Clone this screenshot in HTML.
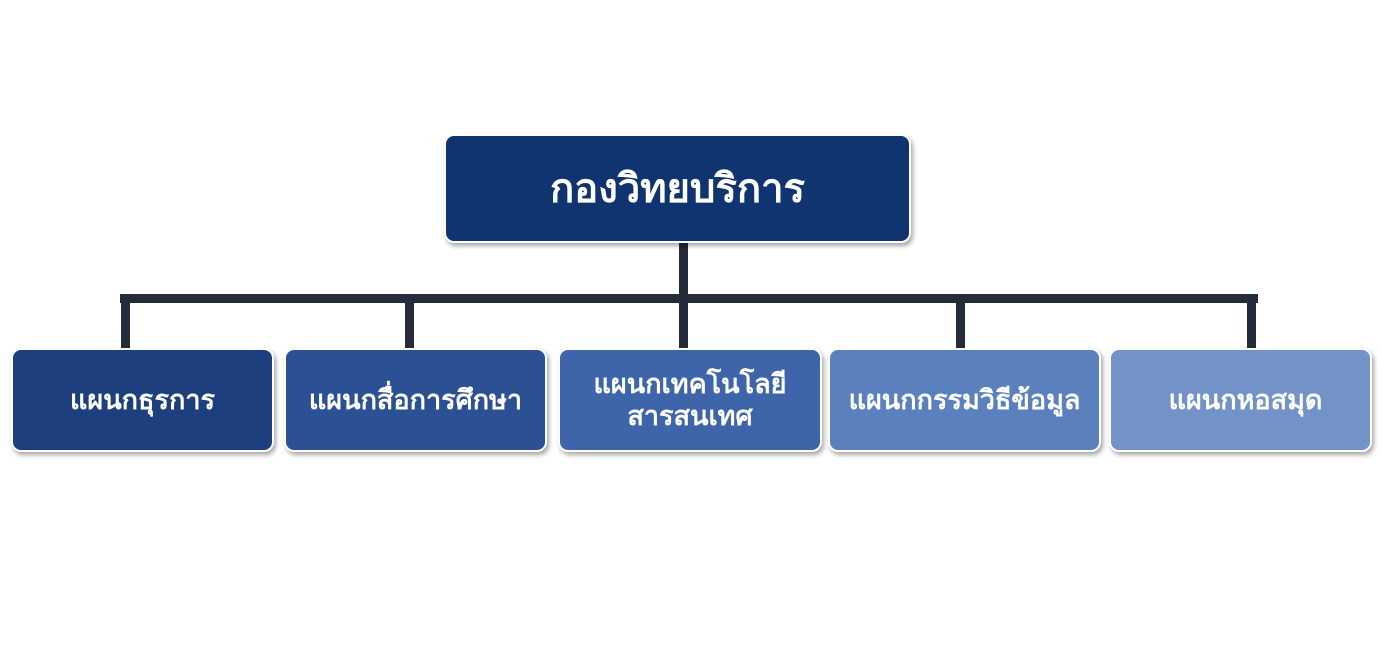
<!DOCTYPE html>
<html><head><meta charset="utf-8"><style>
body{margin:0;width:1382px;height:662px;background:#fff;position:relative;overflow:hidden;font-family:"Liberation Sans","DejaVu Sans",sans-serif;}
.b{position:absolute;border:2px solid #fff;border-radius:10px;box-shadow:2px 3px 5px rgba(0,0,0,.35);color:#fff;display:flex;align-items:center;justify-content:center;text-align:center;box-sizing:border-box;line-height:1.2;font-weight:bold}
.l{position:absolute;background:#262b3b}
</style></head><body>
<div class="l" style="left:679px;top:240px;width:9px;height:62px"></div>
<div class="l" style="left:120px;top:294px;width:1138px;height:9px"></div>
<div class="l" style="left:121px;top:294px;width:9px;height:58px"></div>
<div class="l" style="left:405px;top:294px;width:9px;height:58px"></div>
<div class="l" style="left:679px;top:294px;width:9px;height:58px"></div>
<div class="l" style="left:956px;top:294px;width:9px;height:58px"></div>
<div class="l" style="left:1247px;top:294px;width:9px;height:58px"></div>
<div class="b" style="left:444px;top:134px;width:467px;height:109px;background:#0f3470;font-size:40px">กองวิทยบริการ</div>
<div class="b" style="left:11px;top:348px;width:263px;height:104px;background:#1d3f7e;font-size:27px">แผนกธุรการ</div>
<div class="b" style="left:284px;top:348px;width:263px;height:104px;background:#2b5093;font-size:27px">แผนกสื่อการศึกษา</div>
<div class="b" style="left:558px;top:348px;width:264px;height:104px;background:#3e65a9;font-size:27px">แผนกเทคโนโลยี<br>สารสนเทศ</div>
<div class="b" style="left:828px;top:348px;width:273px;height:104px;background:#5a80bd;font-size:27px">แผนกกรรมวิธีข้อมูล</div>
<div class="b" style="left:1109px;top:348px;width:263px;height:104px;background:#7393c8;font-size:27px;padding-left:10px">แผนกหอสมุด</div>
</body></html>
